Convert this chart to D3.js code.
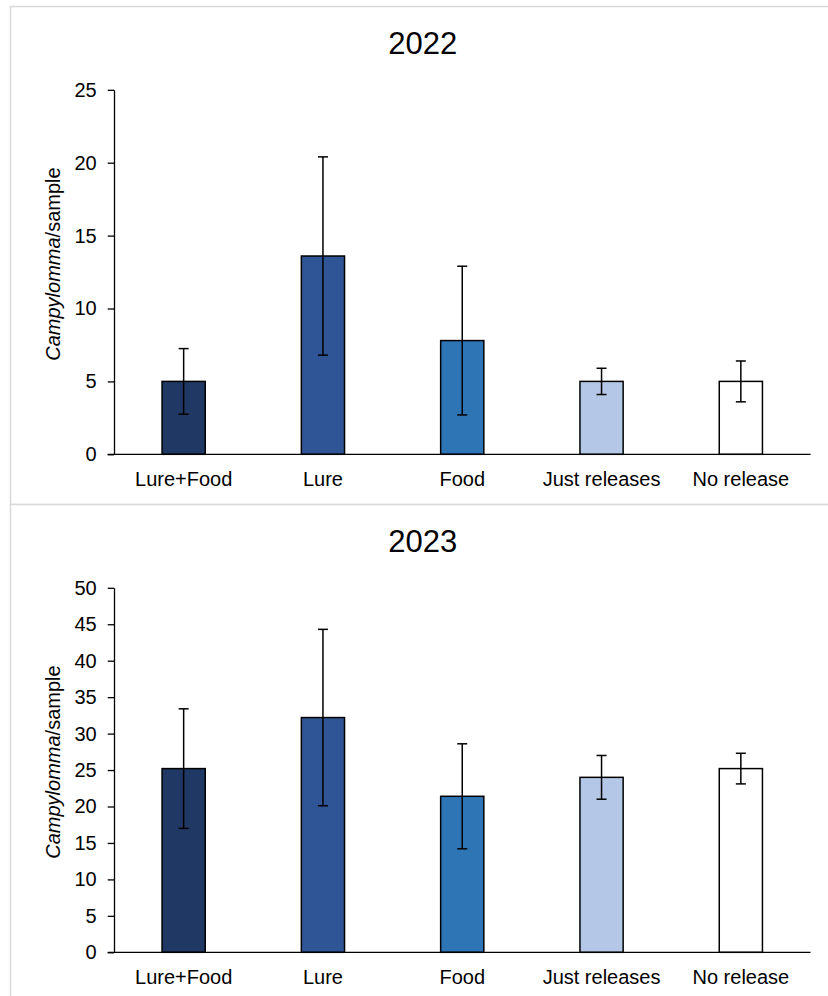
<!DOCTYPE html>
<html>
<head>
<meta charset="utf-8">
<script src="https://cdn.jsdelivr.net/npm/d3@7"></script>
<style>
  html, body { margin: 0; padding: 0; background: #ffffff; }
  svg { display: block; }
  text { font-family: "Liberation Sans", Arial, sans-serif; fill: #000; }
</style>
</head>
<body>
<svg id="chart" width="828" height="996"></svg>
<script>
// ---- data ----
const categories = ["Lure+Food", "Lure", "Food", "Just releases", "No release"];
const colors = ["#203864", "#2F5597", "#2E75B6", "#B4C7E7", "#FFFFFF"];

const means2022 = [5.0, 13.6, 7.8, 5.0, 5.0];
const errors2022 = [2.25, 6.8, 5.1, 0.9, 1.4];
const ticks2022 = [0, 5, 10, 15, 20, 25];

const means2023 = [25.2, 32.2, 21.4, 24.0, 25.2];
const errors2023 = [8.2, 12.1, 7.2, 3.0, 2.1];
const ticks2023 = [0, 5, 10, 15, 20, 25, 30, 35, 40, 45, 50];

const panels = [
  { title: "2022", means: means2022, errors: errors2022, ticks: ticks2022, top: 6.5 },
  { title: "2023", means: means2023, errors: errors2023, ticks: ticks2023, top: 504.5 }
];

const svg = d3.select("#chart");

panels.forEach(p => {
  const g = svg.append("g").attr("transform", `translate(0,${p.top})`);

  // chart area border
  g.append("rect")
    .attr("x", 10.5).attr("y", 0)
    .attr("width", 826).attr("height", 498)
    .attr("fill", "#fff")
    .attr("stroke", "#d9d9d9").attr("stroke-width", 1.5);

  const y0 = 447.8, y1 = 83.3;
  const x = d3.scaleBand().domain(categories).range([114, 810.5])
    .paddingInner(0.69).paddingOuter(0.345);
  const yMax = p.ticks[p.ticks.length - 1];
  const y = d3.scaleLinear().domain([0, yMax]).range([y0, y1]);

  // title
  g.append("text")
    .attr("x", 422.7).attr("y", 47.8)
    .attr("text-anchor", "middle")
    .style("font-size", "31px")
    .text(p.title);

  // y axis
  const yAxis = g.append("g")
    .attr("transform", "translate(114,0)")
    .call(d3.axisLeft(y).tickValues(p.ticks).tickSizeInner(6.3).tickSizeOuter(0).tickPadding(11));
  yAxis.select(".domain").attr("stroke", "#000").attr("stroke-width", 1.3);
  yAxis.selectAll(".tick line").attr("stroke", "#000").attr("stroke-width", 1.3);
  yAxis.selectAll(".tick text")
    .style("font-size", "20px")
    .style("font-family", "'Liberation Sans', Arial, sans-serif")
    .attr("fill", "#000");

  // y axis label
  const lab = g.append("text")
    .attr("transform", `translate(60,${(y0 + y1) / 2 - 8}) rotate(-90)`)
    .attr("text-anchor", "middle")
    .style("font-size", "20px");
  lab.append("tspan").style("font-style", "italic").text("Campylomma");
  lab.append("tspan").text("/sample");

  // bars
  const data = categories.map((c, i) => ({ c, m: p.means[i], e: p.errors[i], col: colors[i] }));
  g.selectAll("rect.bar").data(data).enter().append("rect")
    .attr("class", "bar")
    .attr("x", d => x(d.c))
    .attr("width", x.bandwidth())
    .attr("y", d => y(d.m))
    .attr("height", d => y(0) - y(d.m))
    .attr("fill", d => d.col)
    .attr("stroke", "#000").attr("stroke-width", 1.5);

  // x axis
  const xAxis = g.append("g")
    .attr("transform", `translate(0,${y0})`)
    .call(d3.axisBottom(x).tickSize(0).tickPadding(17.5));
  xAxis.select(".domain").remove();
  xAxis.selectAll(".tick text")
    .style("font-size", "20px")
    .style("font-family", "'Liberation Sans', Arial, sans-serif")
    .attr("fill", "#000");
  g.append("line")
    .attr("x1", 107.7).attr("x2", 810.5)
    .attr("y1", y0).attr("y2", y0)
    .attr("stroke", "#000").attr("stroke-width", 1.3);

  // error bars
  const eb = g.selectAll("g.err").data(data).enter().append("g").attr("class", "err");
  const cx = d => x(d.c) + x.bandwidth() / 2;
  eb.append("line")
    .attr("x1", cx).attr("x2", cx)
    .attr("y1", d => y(d.m - d.e)).attr("y2", d => y(d.m + d.e))
    .attr("stroke", "#000").attr("stroke-width", 1.5);
  eb.append("line")
    .attr("x1", d => cx(d) - 5).attr("x2", d => cx(d) + 5)
    .attr("y1", d => y(d.m + d.e)).attr("y2", d => y(d.m + d.e))
    .attr("stroke", "#000").attr("stroke-width", 1.5);
  eb.append("line")
    .attr("x1", d => cx(d) - 5).attr("x2", d => cx(d) + 5)
    .attr("y1", d => y(d.m - d.e)).attr("y2", d => y(d.m - d.e))
    .attr("stroke", "#000").attr("stroke-width", 1.5);
});
</script>
</body>
</html>
